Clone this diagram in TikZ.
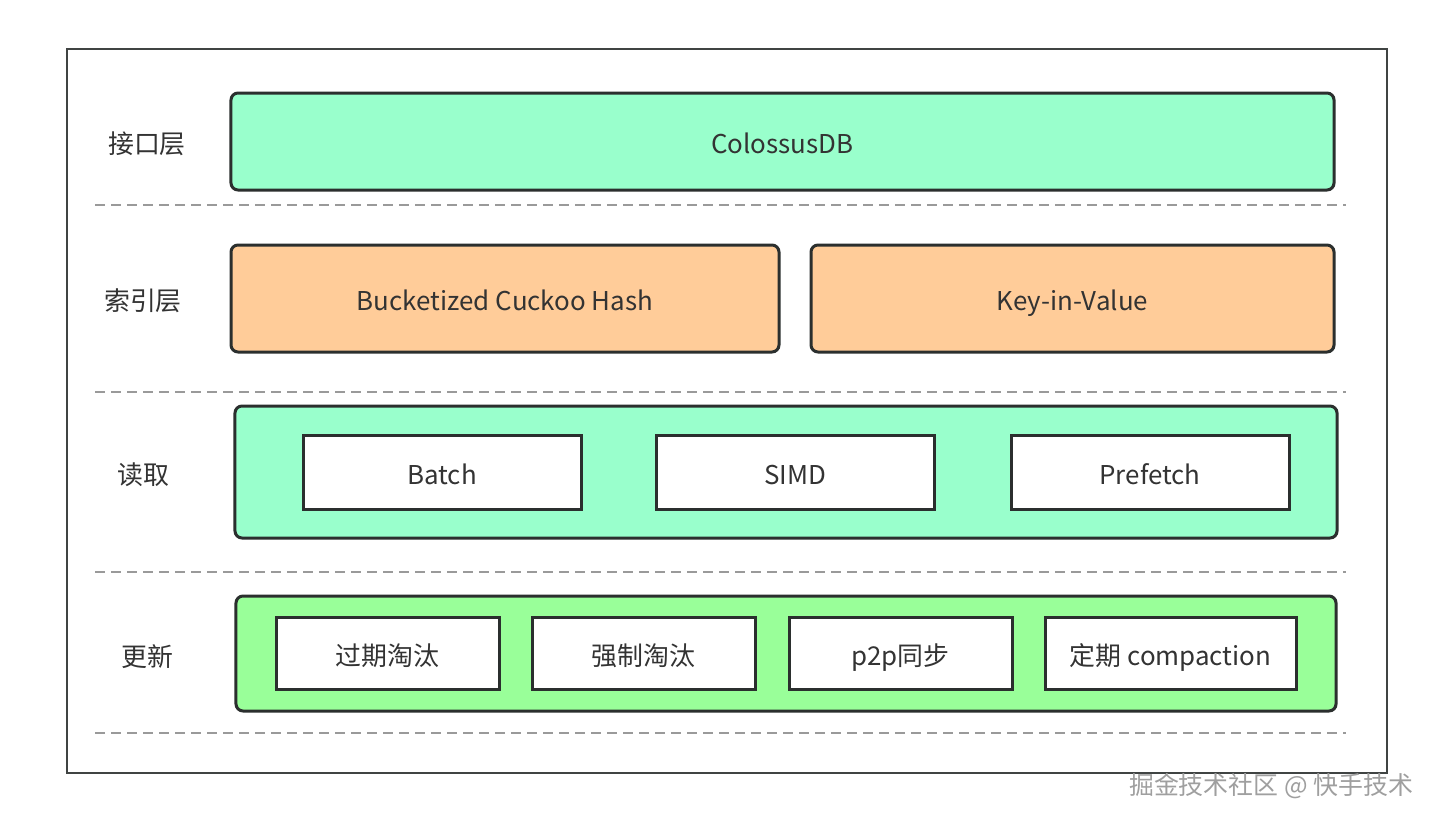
\documentclass[tikz,border=0pt]{standalone}
\usepackage{fontspec}
\setmainfont{Noto Sans CJK SC}
\definecolor{mint}{HTML}{99FFCC}
\definecolor{peach}{HTML}{FFCC99}
\definecolor{lgreen}{HTML}{99FF99}
\definecolor{edge}{HTML}{2B2F2E}
\definecolor{sep}{HTML}{9A9A9A}
\definecolor{txt}{HTML}{333333}
\tikzset{
  txtbase/.style={text=txt, font=\fontsize{26}{30}\selectfont, inner sep=0pt, text height=25bp, text depth=1bp},
  panel/.style={txtbase, draw=edge, line width=3bp, rounded corners=7bp},
  cell/.style={txtbase, draw=edge, line width=3bp, fill=white},
  lab/.style={txtbase},
  sepline/.style={draw=sep, line width=1.6bp, dash pattern=on 10bp off 6bp},
}
\begin{document}
\begin{tikzpicture}[x=1bp,y=-1bp]
\useasboundingbox (0,0) rectangle (1436,823);
\fill[white] (0,0) rectangle (1436,823);
\draw[draw=edge!90, line width=2.2bp] (67,49) rectangle (1387,773);
% separators
\foreach \yy in {205,392,572,733} \draw[sepline] (95,\yy) -- (1346,\yy);
% row labels
\node[lab] (l1) at (147,141) {接口层};
\node[lab] (l2) at (143,298) {索引层};
\node[lab] (l3) at (143,472) {读取};
\node[lab] (l4) at (147,654) {更新};
% row 1
\node[panel, fill=mint, minimum width=1103bp, minimum height=97bp] (db) at (782.5,141.5) {ColossusDB};
% row 2
\node[panel, fill=peach, minimum width=548bp, minimum height=107bp] (bch) at (505,298.5) {Bucketized Cuckoo Hash};
\node[panel, fill=peach, minimum width=523bp, minimum height=107bp] (kiv) at (1072.5,298.5) {Key-in-Value};
% row 3
\node[panel, fill=mint, minimum width=1102bp, minimum height=132bp] (read) at (786,472) {};
\node[cell, minimum width=278bp, minimum height=74bp] (batch) at (442,472) {Batch};
\node[cell, minimum width=278bp, minimum height=74bp] (simd) at (795,472) {SIMD};
\node[cell, minimum width=278bp, minimum height=74bp] (pref) at (1150,472) {Prefetch};
% row 4
\node[panel, fill=lgreen, minimum width=1100bp, minimum height=115bp] (upd) at (786,653.5) {};
\node[cell, minimum width=223bp, minimum height=72bp] (c1) at (387.5,653) {过期淘汰};
\node[cell, minimum width=223bp, minimum height=72bp] (c2) at (643.5,653) {强制淘汰};
\node[cell, minimum width=223bp, minimum height=72bp] (c3) at (900.5,653) {p2p同步};
\node[cell, minimum width=251bp, minimum height=72bp] (c4) at (1170.5,653) {定期 compaction};
% watermark
\node[text=gray!75, font=\fontsize{25}{28}\selectfont, inner sep=0pt] (wm) at (1271,786) {掘金技术社区 @ 快手技术};
\end{tikzpicture}
\end{document}
